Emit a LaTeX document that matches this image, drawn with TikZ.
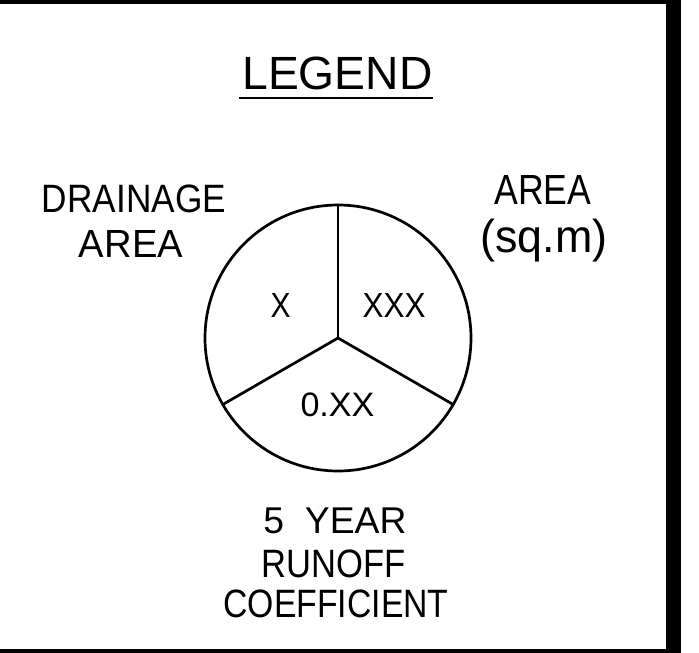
\documentclass[tikz,border=0pt]{standalone}
\usepackage{fontspec}
\setmainfont{Liberation Sans}
\usepackage{graphicx}
\newcommand{\fitxt}[3]{\resizebox*{#1pt}{#2pt}{#3}}
\tikzset{
  lbl/.style={inner sep=0pt, outer sep=0pt, anchor=center},
  frameline/.style={line width=4pt},
  pieline/.style={line width=2.7pt, line cap=round}
}
\begin{document}
\begin{tikzpicture}[x=1pt, y=-1pt]
\useasboundingbox (0,0) rectangle (699,653);
\fill[white] (0,0) rectangle (699,653);
% frame
\coordinate (tl) at (0,2);
\coordinate (tr) at (681,2);
\coordinate (bl) at (0,651);
\coordinate (br) at (681,651);
\draw[frameline] (tl) -- (tr);
\draw[frameline] (bl) -- (br);
\fill[black] (666,0) rectangle (681,653);
% title
\node[lbl] (legend) at (337.5,73.5) {\fitxt{190}{33}{LEGEND}};
\coordinate (ul1) at (239,98);
\coordinate (ul2) at (433,98);
\draw[line width=2pt] (ul1) -- (ul2);
% pie
\node[circle, draw, line width=2.7pt, minimum size=266pt, inner sep=0pt, outer sep=0pt] (pie) at (338,338) {};
\draw[pieline] (pie.center) -- (pie.north);
\draw[pieline] (pie.center) -- (pie.210);
\draw[pieline] (pie.center) -- (pie.330);
% pie texts
\node[lbl] (tx) at (280.5,305) {\fitxt{20}{24}{X}};
\node[lbl] (txxx) at (394,305) {\fitxt{63}{24}{XXX}};
\node[lbl] (tcoef) at (337.5,405) {\fitxt{74}{24}{0.XX}};
% side labels
\node[lbl] (drain1) at (134,199) {\fitxt{184}{28}{DRAINAGE}};
\node[lbl] (drain2) at (131,243.5) {\fitxt{104}{27}{AREA}};
\node[lbl] (area1) at (543,190) {\fitxt{97}{29}{AREA}};
\node[lbl] (area2) at (544,240.5) {\fitxt{127}{43}{(sq.m)}};
% bottom label
\node[lbl] (yr) at (335,521) {\fitxt{143}{26}{5\ \ YEAR}};
\node[lbl] (run) at (333.5,564) {\fitxt{144}{28}{RUNOFF}};
\node[lbl] (coef) at (336,604) {\fitxt{225}{28}{COEFFICIENT}};
\end{tikzpicture}
\end{document}
